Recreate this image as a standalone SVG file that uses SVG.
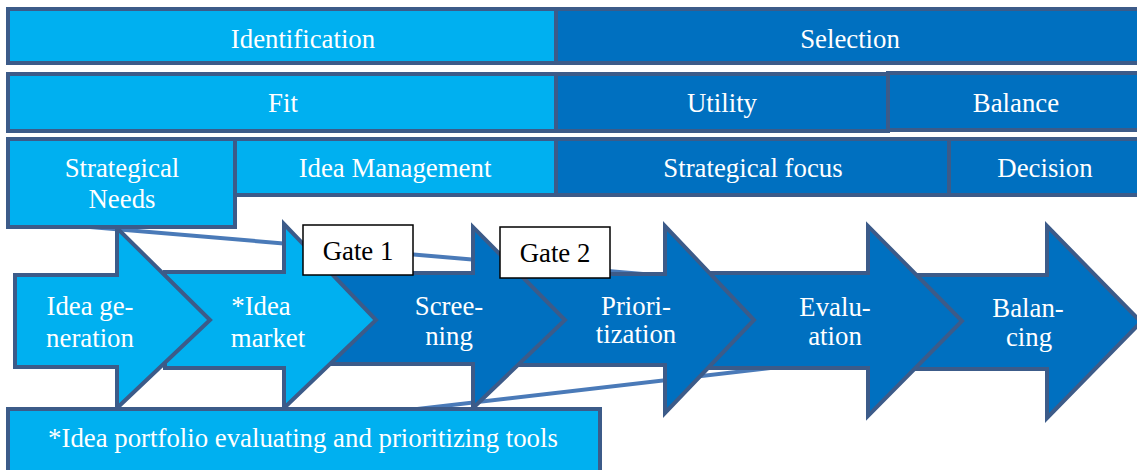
<svg xmlns="http://www.w3.org/2000/svg" width="1137" height="470" viewBox="0 0 1137 470" font-family="'Liberation Serif', 'DejaVu Serif', serif">
  <style>
    .light { fill: #00b0f0; stroke: #3c5b89; stroke-width: 4; }
    .dark { fill: #0070c0; stroke: #3c5b89; stroke-width: 4; }
    .gate { fill: #ffffff; stroke: #000000; stroke-width: 1.5; }
    .link { stroke: #4a7ab8; stroke-width: 4; fill: none; }
    text { font-family: 'Liberation Serif', 'DejaVu Serif', serif; font-size: 26.8px; text-anchor: middle; }
    .w { fill: #ffffff; }
    .b { fill: #000000; }
  </style>

  <!-- connector lines, lying behind the arrows and bars -->
  <g id="connectors">
    <line class="link" x1="90" y1="227" x2="690" y2="278"/>
    <line class="link" x1="400" y1="411" x2="830" y2="361"/>
  </g>

  <!-- process arrows, drawn right-to-left so each head overlaps the next body -->
  <g id="arrow-balancing">
    <path class="dark" d="M900,275 L1047,275 L1047,226 L1141,322 L1047,418 L1047,369 L900,369 Z"/>
    <text class="w" x="1028" y="317">Balan-</text>
    <text class="w" x="1029" y="346">cing</text>
  </g>
  <g id="arrow-evaluation">
    <path class="dark" d="M710,273 L868,273 L868,226 L962,321 L868,416 L868,368 L710,368 Z"/>
    <text class="w" x="835" y="316">Evalu-</text>
    <text class="w" x="835" y="345">ation</text>
  </g>
  <g id="arrow-prioritization">
    <path class="dark" d="M520,274 L665,274 L665,226 L754,320 L665,413 L665,365 L520,365 Z"/>
    <text class="w" x="636" y="315">Priori-</text>
    <text class="w" x="636" y="343">tization</text>
  </g>
  <g id="arrow-screening">
    <path class="dark" d="M330,273 L473,273 L473,227 L565,320 L473,408 L473,364 L330,364 Z"/>
    <text class="w" x="449" y="315">Scree-</text>
    <text class="w" x="449" y="345">ning</text>
  </g>
  <g id="arrow-idea-market">
    <path class="light" d="M165,272 L284,272 L284,224 L376,320 L284,408 L284,368 L165,368 Z"/>
    <text class="w" x="261" y="315">*Idea</text>
    <text class="w" x="268" y="347">market</text>
  </g>
  <g id="arrow-idea-generation">
    <path class="light" d="M15,275 L117,275 L117,228 L210,320 L117,408 L117,367 L15,367 Z"/>
    <text class="w" x="90" y="315">Idea ge-</text>
    <text class="w" x="90" y="347">neration</text>
  </g>

  <!-- phase bars -->
  <g id="identification">
    <rect class="light" x="8" y="9" width="548" height="54"/>
    <text class="w" x="303" y="48">Identification</text>
  </g>
  <g id="selection">
    <rect class="dark" x="556" y="9" width="592" height="54"/>
    <text class="w" x="850" y="48">Selection</text>
  </g>
  <g id="fit">
    <rect class="light" x="8" y="74" width="548" height="57"/>
    <text class="w" x="283" y="112">Fit</text>
  </g>
  <g id="utility">
    <rect class="dark" x="556" y="74" width="332" height="57"/>
    <text class="w" x="722" y="112">Utility</text>
  </g>
  <g id="balance">
    <rect class="dark" x="888" y="73" width="260" height="57"/>
    <text class="w" x="1016" y="112">Balance</text>
  </g>
  <g id="idea-management">
    <rect class="light" x="235" y="139" width="321" height="56"/>
    <text class="w" x="395" y="177">Idea Management</text>
  </g>
  <g id="strategical-needs">
    <rect class="light" x="8" y="139" width="227" height="88"/>
    <text class="w" x="122" y="177">Strategical</text>
    <text class="w" x="122" y="208">Needs</text>
  </g>
  <g id="strategical-focus">
    <rect class="dark" x="556" y="139" width="393" height="56"/>
    <text class="w" x="753" y="177">Strategical focus</text>
  </g>
  <g id="decision">
    <rect class="dark" x="949" y="139" width="200" height="56"/>
    <text class="w" x="1045" y="177">Decision</text>
  </g>

  <!-- gates -->
  <g id="gate-1">
    <rect class="gate" x="303" y="225" width="110" height="50"/>
    <text class="b" x="358" y="260">Gate 1</text>
  </g>
  <g id="gate-2">
    <rect class="gate" x="500" y="227" width="110" height="51"/>
    <text class="b" x="555" y="262">Gate 2</text>
  </g>

  <!-- tools bar -->
  <g id="tools">
    <rect class="light" x="8" y="409" width="592" height="70"/>
    <text class="w" x="303" y="447">*Idea portfolio evaluating and prioritizing tools</text>
  </g>
</svg>
